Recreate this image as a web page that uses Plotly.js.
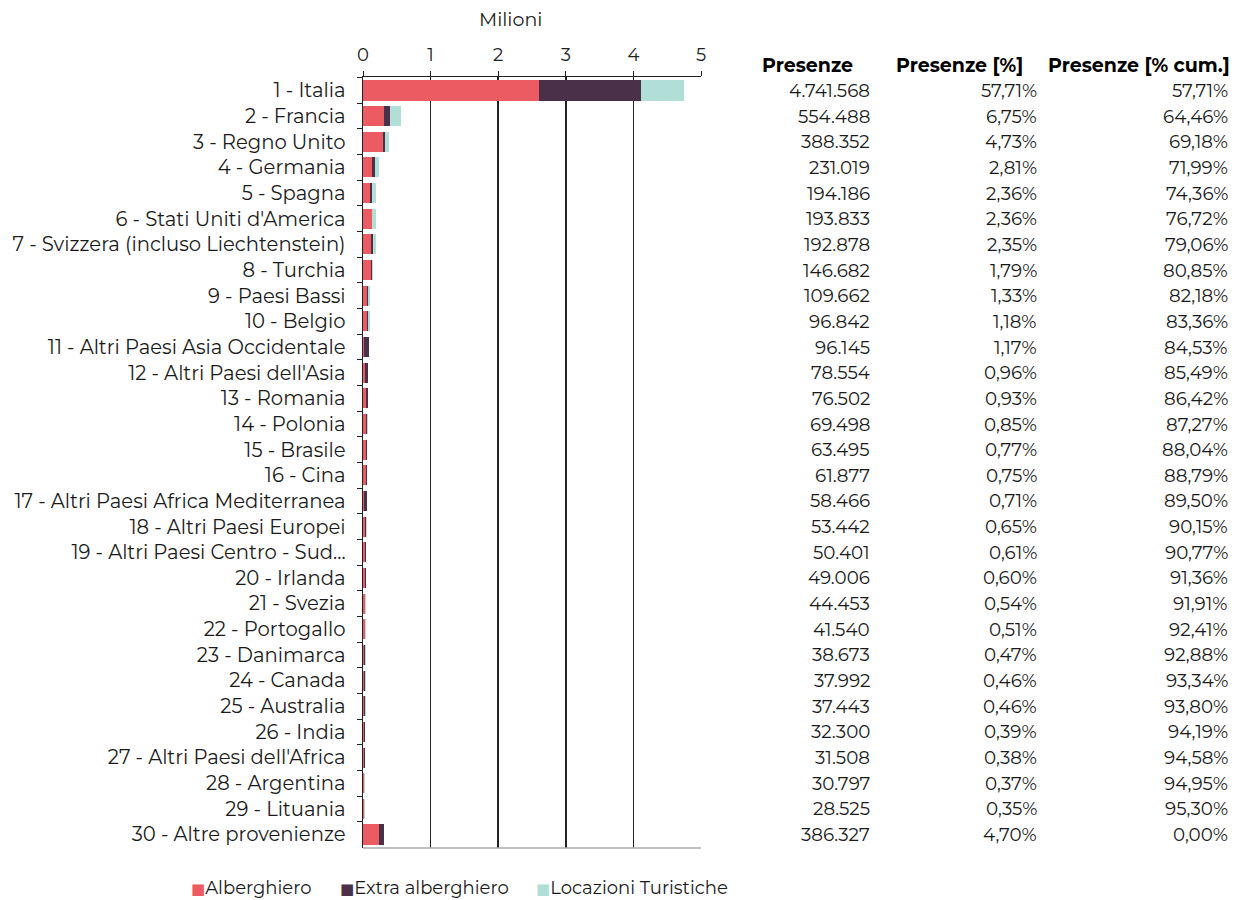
<!DOCTYPE html>
<html>
<head>
<meta charset="utf-8">
<script src="https://cdn.plot.ly/plotly-3.0.1.min.js"></script>
<style>html,body{margin:0;padding:0;background:#fff;}#chart{width:1235px;height:900px;}</style>
</head>
<body>
<div id="chart"></div>
<script>
const categories = [
  "1 - Italia","2 - Francia","3 - Regno Unito","4 - Germania","5 - Spagna",
  "6 - Stati Uniti d'America","7 - Svizzera (incluso Liechtenstein)","8 - Turchia","9 - Paesi Bassi","10 - Belgio",
  "11 - Altri Paesi Asia Occidentale","12 - Altri Paesi dell'Asia","13 - Romania","14 - Polonia","15 - Brasile",
  "16 - Cina","17 - Altri Paesi Africa Mediterranea","18 - Altri Paesi Europei","19 - Altri Paesi Centro - Sud...","20 - Irlanda",
  "21 - Svezia","22 - Portogallo","23 - Danimarca","24 - Canada","25 - Australia",
  "26 - India","27 - Altri Paesi dell'Africa","28 - Argentina","29 - Lituania","30 - Altre provenienze"
];
// values in millions
const alberghiero = [2.61,0.315,0.30,0.128,0.104,0.128,0.113,0.118,0.055,0.060,
  0.020,0.030,0.045,0.050,0.045,0.050,0.020,0.035,0.035,0.035,
  0.030,0.028,0.022,0.022,0.020,0.012,0.012,0.018,0.012,0.237];
const extraAlberghiero = [1.50,0.080,0.025,0.045,0.024,0.010,0.030,0.020,0.015,0.007,
  0.076,0.040,0.025,0.010,0.008,0.006,0.035,0.008,0.005,0.004,
  0.004,0.004,0.004,0.006,0.008,0.018,0.015,0.004,0.004,0.069];
const locazioni = [0.632,0.160,0.063,0.058,0.066,0.056,0.050,0.009,0.040,0.030,
  0.000,0.009,0.0065,0.0095,0.0105,0.0059,0.0035,0.0104,0.0104,0.010,
  0.0105,0.0095,0.0127,0.010,0.0094,0.0023,0.0045,0.0088,0.0125,0.003];
const presenze = ["4.741.568","554.488","388.352","231.019","194.186","193.833","192.878","146.682","109.662","96.842",
  "96.145","78.554","76.502","69.498","63.495","61.877","58.466","53.442","50.401","49.006",
  "44.453","41.540","38.673","37.992","37.443","32.300","31.508","30.797","28.525","386.327"];
const presenzePct = ["57,71%","6,75%","4,73%","2,81%","2,36%","2,36%","2,35%","1,79%","1,33%","1,18%",
  "1,17%","0,96%","0,93%","0,85%","0,77%","0,75%","0,71%","0,65%","0,61%","0,60%",
  "0,54%","0,51%","0,47%","0,46%","0,46%","0,39%","0,38%","0,37%","0,35%","4,70%"];
const presenzeCum = ["57,71%","64,46%","69,18%","71,99%","74,36%","76,72%","79,06%","80,85%","82,18%","83,36%",
  "84,53%","85,49%","86,42%","87,27%","88,04%","88,79%","89,50%","90,15%","90,77%","91,36%",
  "91,91%","92,41%","92,88%","93,34%","93,80%","94,19%","94,58%","94,95%","95,30%","0,00%"];
const headers = ["Presenze","Presenze [%]","Presenze [% cum.]"];
const seriesNames = ["Alberghiero","Extra alberghiero","Locazioni Turistiche"];
const axisTitle = "Milioni";
const colors = ["#EC5B62","#4B3049","#B1DFD8"];

const FONT = "Montserrat, 'DejaVu Sans', sans-serif";
const TXT = '#1a1a1a';
const series = [alberghiero, extraAlberghiero, locazioni];
const traces = series.map((vals, k) => ({
  type: 'bar', orientation: 'h', name: seriesNames[k],
  x: vals, y: categories,
  marker: {color: colors[k], line: {width: 0}},
  hoverinfo: 'x+y+name'
}));

const annotations = [];
const cols = [presenze, presenzePct, presenzeCum];
const colX = [1.506, 2.0, 2.565];
cols.forEach((col, c) => {
  col.forEach((t, i) => {
    annotations.push({xref:'paper', yref:'y', x: colX[c], y: categories[i], text: t,
      showarrow:false, xanchor:'right', yanchor:'middle', font:{family:FONT, size:18.3, color:TXT}});
  });
});
const headX = [1.174, 1.57, 2.022];
headers.forEach((h, c) => {
  annotations.push({xref:'paper', yref:'paper', x: headX[c], y: 1.0143, text: '<b>'+h+'</b>',
    showarrow:false, xanchor:'left', yanchor:'middle', font:{family:FONT, size:19, color:'#000'}});
});
// axis title
annotations.push({xref:'paper', yref:'paper', x: 0.435, y: 1.074, xanchor:'center', yanchor:'middle',
  showarrow:false, text: axisTitle, font:{family:FONT, size:19, color:'#222'}});
// legend (custom, as in the original)
const legX = [-0.516, -0.073, 0.507];
seriesNames.forEach((n, k) => {
  annotations.push({xref:'paper', yref:'paper', x: legX[k], y: -0.0525, xanchor:'left', yanchor:'middle',
    showarrow:false, text: '<span style="color:'+colors[k]+';font-size:15px;font-family:DejaVu Sans">■</span>'+n,
    font:{family:FONT, size:18, color:TXT}});
});

const layout = {
  width: 1235, height: 900,
  margin: {l: 363, r: 534, t: 77, b: 52, pad: 0},
  barmode: 'stack', bargap: 0.22,
  paper_bgcolor: '#fff', plot_bgcolor: '#fff',
  font: {family: FONT, size: 18, color: TXT},
  showlegend: false,
  xaxis: {side: 'top', range: [0, 5], dtick: 1, tick0: 0, showgrid: true, gridcolor: '#222', gridwidth: 1.5,
    zeroline: false, showline: true, linecolor: '#222', linewidth: 1.5, mirror: false,
    ticks: 'outside', ticklen: 5, tickcolor: '#222', ticklabelstandoff: 2,
    tickfont: {family: FONT, size: 18, color: '#222'}, fixedrange: true},
  yaxis: {type: 'category', autorange: 'reversed', showline: true, linecolor: '#222', linewidth: 1.5,
    ticks: 'outside', ticklen: 5, tickcolor: '#222', tickson: 'boundaries', showgrid: false,
    ticklabelstandoff: 12,
    tickfont: {family: FONT, size: 19.6, color: TXT}, fixedrange: true},
  shapes: [{type:'line', xref:'paper', yref:'paper', x0:0, x1:1, y0:0, y1:0, line:{color:'#aaa', width:1.5}}],
  annotations: annotations
};
Plotly.newPlot('chart', traces, layout, {displayModeBar: false, staticPlot: true});
</script>
</body>
</html>
